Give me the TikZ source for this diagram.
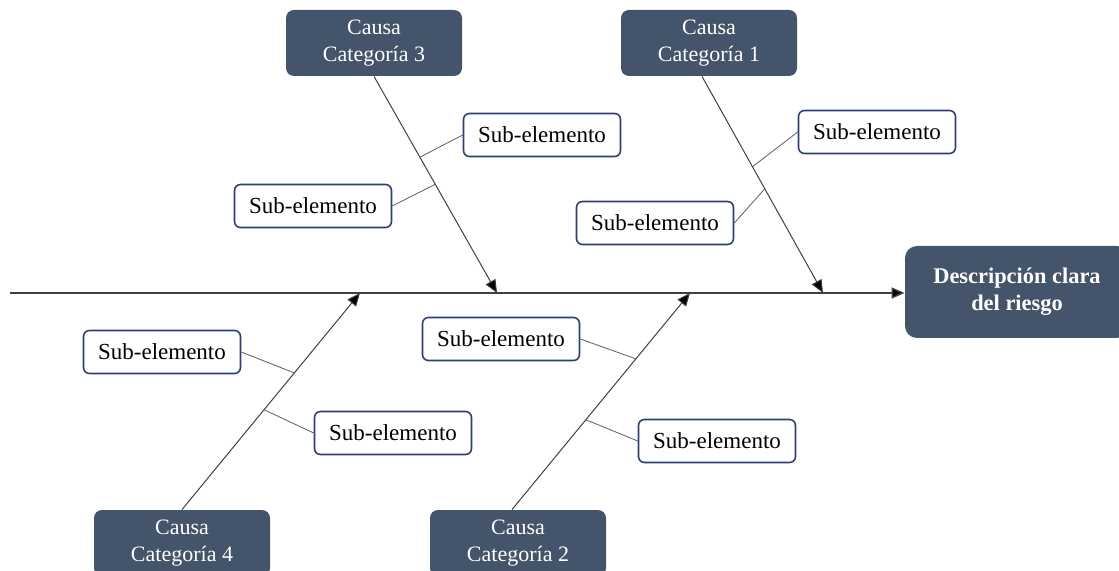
\documentclass[tikz,border=0pt]{standalone}
\usepackage{fontspec}
\setmainfont{Liberation Serif}
\usetikzlibrary{arrows.meta,calc}
\definecolor{cajaoscura}{RGB}{68,84,106}
\definecolor{bordeazul}{RGB}{47,62,118}
\definecolor{lineagris}{RGB}{64,64,64}

\begin{document}
\begin{tikzpicture}[x=0.5pt, y=-0.5pt,
  causa/.style={rounded corners=4pt, fill=cajaoscura, text=white, minimum width=88pt, minimum height=33pt, inner sep=0pt, align=center, font=\fontsize{11}{13.5}\selectfont},
  sub/.style={draw=bordeazul, line width=0.8pt, rounded corners=3pt, fill=white, minimum width=78.5pt, minimum height=21.5pt, inner sep=0pt, font=\fontsize{11.5}{13}\selectfont},
  efecto/.style={rounded corners=6pt, fill=cajaoscura, text=white, minimum width=112pt, minimum height=46pt, inner sep=0pt, align=center, font=\fontsize{11.2}{13.5}\selectfont\bfseries},
  espina/.style={draw=lineagris, line width=0.5pt, -{Triangle[length=6.5pt,width=5.5pt,fill=black]}},
  rama/.style={draw=lineagris!85, line width=0.4pt}]
  \clip (0,0) rectangle (1119,571);

  % efecto y causas
  \node[efecto] (riesgo) at (1017,292) {Descripción clara\\del riesgo};
  \node[causa] (cat3) at (374,43) {Causa\\Categoría 3};
  \node[causa] (cat1) at (709,43) {Causa\\Categoría 1};
  \node[causa] (cat4) at (182,543) {Causa\\Categoría 4};
  \node[causa] (cat2) at (518,543) {Causa\\Categoría 2};

  % sub-elementos
  \node[sub] (s3a) at (542,135) {Sub-elemento};
  \node[sub] (s3b) at (313,206) {Sub-elemento};
  \node[sub] (s1a) at (877,132) {Sub-elemento};
  \node[sub] (s1b) at (655,223) {Sub-elemento};
  \node[sub] (s4a) at (162,352) {Sub-elemento};
  \node[sub] (s4b) at (393,433) {Sub-elemento};
  \node[sub] (s2a) at (501,339) {Sub-elemento};
  \node[sub] (s2b) at (717,441) {Sub-elemento};

  % espina central
  \coordinate (cola) at (10,293);
  \draw[espina, line width=0.7pt] (cola) -- (riesgo.west |- cola);

  % espinas de las causas
  \coordinate (b3) at (cat3.south);
  \coordinate (b1) at ($(cat1.south)+(-7,0)$);
  \coordinate (b4) at (cat4.north);
  \coordinate (b2) at ($(cat2.north)+(-6,0)$);
  \coordinate (p3) at (497,293);
  \coordinate (p1) at (823,293);
  \coordinate (p4) at (360,293);
  \coordinate (p2) at (690,293);
  \draw[espina] (b3) -- (p3);
  \draw[espina] (b1) -- (p1);
  \draw[espina] (b4) -- (p4);
  \draw[espina] (b2) -- (p2);

  % uniones de los sub-elementos
  \coordinate (j3a) at ($(b3)!0.373!(p3)$);
  \coordinate (j3b) at ($(b3)!0.498!(p3)$);
  \coordinate (j1a) at ($(b1)!0.417!(p1)$);
  \coordinate (j1b) at ($(b1)!0.519!(p1)$);
  \coordinate (j4a) at ($(b4)!0.631!(p4)$);
  \coordinate (j4b) at ($(b4)!0.461!(p4)$);
  \coordinate (j2a) at ($(b2)!0.696!(p2)$);
  \coordinate (j2b) at ($(b2)!0.415!(p2)$);
  \draw[rama] (s3a.west) -- (j3a);
  \draw[rama] (s3b.east) -- (j3b);
  \draw[rama] (s1a.west) -- (j1a);
  \draw[rama] (s1b.east) -- (j1b);
  \draw[rama] (s4a.east) -- (j4a);
  \draw[rama] (s4b.west) -- (j4b);
  \draw[rama] (s2a.east) -- (j2a);
  \draw[rama] (s2b.west) -- (j2b);
\end{tikzpicture}
\end{document}
